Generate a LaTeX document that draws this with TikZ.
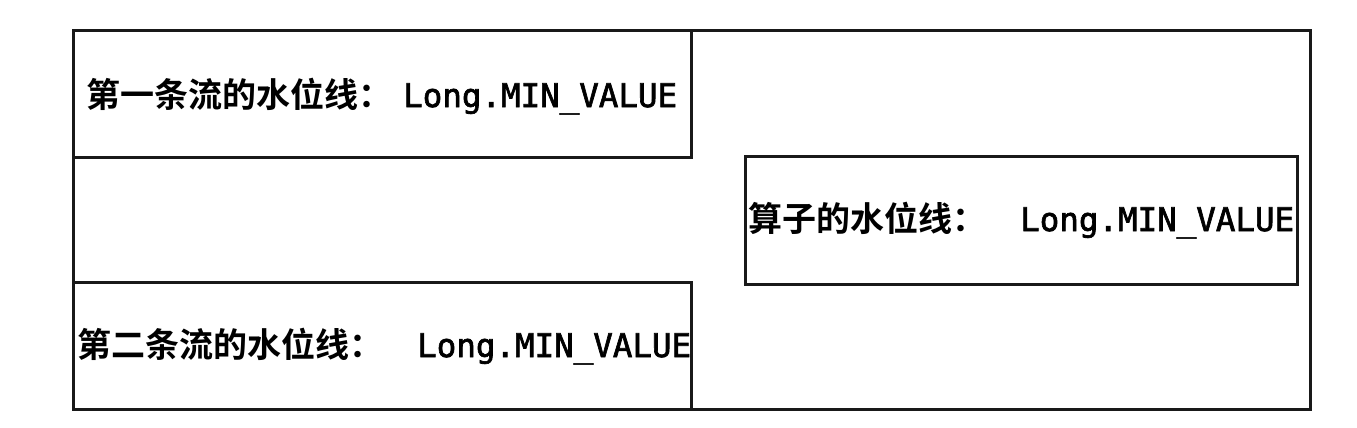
\documentclass[tikz,border=0pt]{standalone}
\usepackage{fontspec}
\newfontfamily\cjk{Noto Sans CJK SC}[BoldFont={* Bold}]
\newfontfamily\mono{DejaVu Sans Mono}[FakeBold=2]
\begin{document}
\begin{tikzpicture}[x=1pt,y=-1pt,
  frame/.style={draw=black!90,line width=3pt},
  lbl/.style={anchor=base west,inner sep=0pt,text=black},
  zh/.style={lbl,font=\cjk\bfseries\fontsize{34}{34}\selectfont},
  code/.style={lbl,font=\mono\fontsize{32.5}{32.5}\selectfont},
]
\useasboundingbox (0,0) rectangle (1357,428);
% outer
\draw[frame] (73,31) rectangle (1310,409);
% first stream box
\draw[frame] (73,31) rectangle (691,157);
% second stream box
\draw[frame] (73,282) rectangle (691,409);
% operator box
\draw[frame] (745,156) rectangle (1297,284);
\node[zh] (z1) at (86,107) {第一条流的水位线：};
\node[code] (c1) at (403,107) {Long.MIN\_VALUE};
\node[zh] (z2) at (77,357) {第二条流的水位线：};
\node[code] (c2) at (417,357) {Long.MIN\_VALUE};
\node[zh] (z3) at (748,231) {算子的水位线：};
\node[code] (c3) at (1020,231) {Long.MIN\_VALUE};
\end{tikzpicture}
\end{document}
